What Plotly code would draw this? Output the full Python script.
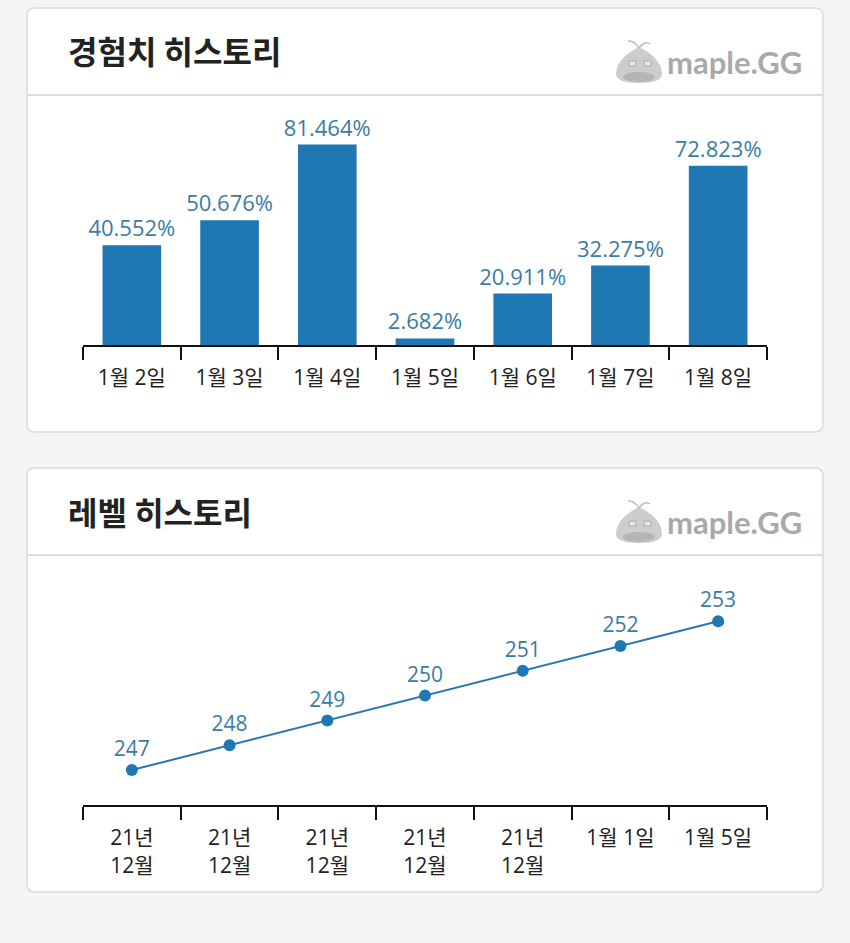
import plotly.graph_objects as go

# ---------------- data ----------------
exp_dates = ["1월 2일", "1월 3일", "1월 4일", "1월 5일", "1월 6일", "1월 7일", "1월 8일"]
exp_values = [40.552, 50.676, 81.464, 2.682, 20.911, 32.275, 72.823]

level_dates = ["21년<br>12월", "21년<br>12월", "21년<br>12월", "21년<br>12월", "21년<br>12월", "1월 1일", "1월 5일"]
level_values = [247, 248, 249, 250, 251, 252, 253]

exp_title = "경험치 히스토리"
level_title = "레벨 히스토리"
logo_text = "maple.GG"

# ---------------- helpers ----------------
W, H = 850, 943
def fx(x):
    return x / W
def fy(y):
    return 1 - y / H

def path_from(cmds):
    out = []
    for c in cmds:
        if isinstance(c, str):
            out.append(c)
        else:
            out.append(f"{fx(c[0]):.5f},{fy(c[1]):.5f}")
    return " ".join(out)

def card_path(x0, y0, x1, y1, r=8):
    return path_from([
        "M", (x0 + r, y0), "L", (x1 - r, y0), "Q", (x1, y0), (x1, y0 + r),
        "L", (x1, y1 - r), "Q", (x1, y1), (x1 - r, y1),
        "L", (x0 + r, y1), "Q", (x0, y1), (x0, y1 - r),
        "L", (x0, y0 + r), "Q", (x0, y0), (x0 + r, y0), "Z"])

BAR_COLOR = "#1f77b4"
LABEL_COLOR = "#3b7ca6"
FONT = "Open Sans, Noto Sans CJK KR"
TITLE_FONT = "Noto Sans CJK KR"
BG = "#f4f5f7"
x_pos = list(range(len(exp_dates)))

fig = go.Figure()

fig.add_trace(go.Bar(
    x=x_pos, y=exp_values, width=0.6,
    marker=dict(color=BAR_COLOR, line=dict(width=0)),
    text=[f"{v:.3f}%" for v in exp_values], textposition="outside",
    constraintext="none",
    textfont=dict(color=LABEL_COLOR, size=22, family=FONT),
    cliponaxis=False, xaxis="x", yaxis="y", hoverinfo="skip",
))

fig.add_trace(go.Scatter(
    x=x_pos, y=level_values, mode="lines+markers+text",
    line=dict(color="#2878b0", width=2),
    marker=dict(color=BAR_COLOR, size=12),
    text=[str(v) for v in level_values], textposition="top center",
    textfont=dict(color=LABEL_COLOR, size=21, family=FONT),
    cliponaxis=False, xaxis="x2", yaxis="y2", hoverinfo="skip",
))

def xaxis_cfg(labels):
    return dict(
        domain=[fx(83), fx(767)], range=[-0.5, len(labels) - 0.5],
        tickmode="array", tickvals=x_pos, ticktext=labels,
        ticks="outside", ticklen=13, tickcolor="rgba(0,0,0,0)", tickwidth=2,
        minor=dict(tickmode="array", tickvals=[i - 0.5 for i in range(len(labels) + 1)],
                   ticks="outside", ticklen=13, tickwidth=2, tickcolor="#111", showgrid=False),
        showline=True, linecolor="#111", linewidth=2,
        showgrid=False, zeroline=False, fixedrange=True,
        tickfont=dict(size=21, color="#222", family=FONT),
    )

shapes = []
for (y0, y1, ydiv) in [(8, 432, 95), (468, 892, 555)]:
    shapes.append(dict(type="path", xref="paper", yref="paper",
                       path=card_path(27, y0, 823, y1, 8),
                       fillcolor="white", line=dict(color="#d9dadc", width=1.5), layer="below"))
    shapes.append(dict(type="line", xref="paper", yref="paper",
                       x0=fx(28), x1=fx(822), y0=fy(ydiv), y1=fy(ydiv),
                       line=dict(color="#dcdcdc", width=2), layer="below"))
    dy = y0 - 8
    # slime logo icon
    shapes.append(dict(type="path", xref="paper", yref="paper",
                       path=path_from(["M", (639, 47 + dy), "Q", (661, 58 + dy), (662, 73 + dy),
                                       "Q", (663, 83 + dy), (639, 83 + dy),
                                       "Q", (615, 83 + dy), (616, 73 + dy),
                                       "Q", (617, 58 + dy), (639, 47 + dy), "Z"]),
                       fillcolor="#cdcdcd", line=dict(width=0), layer="below"))
    shapes.append(dict(type="path", xref="paper", yref="paper",
                       path=path_from(["M", (639, 48 + dy), "Q", (634, 40 + dy), (628, 41 + dy),
                                       "M", (639, 48 + dy), "Q", (645, 40 + dy), (650, 44 + dy)]),
                       line=dict(color="#bdbdbd", width=1.5), layer="below"))
    shapes.append(dict(type="circle", xref="paper", yref="paper",
                       x0=fx(623), x1=fx(655), y0=fy(72 + dy), y1=fy(82 + dy),
                       fillcolor="#b5b5b5", line=dict(width=0), layer="below"))
    for ex in (629, 644):
        shapes.append(dict(type="rect", xref="paper", yref="paper",
                           x0=fx(ex), x1=fx(ex + 7), y0=fy(61 + dy), y1=fy(66 + dy),
                           fillcolor="#e8e8e8", line=dict(color="#a9a9a9", width=1), layer="below"))

annotations = []
for (title, ytitle, ylogo) in [(exp_title, 50, 62), (level_title, 511, 522)]:
    annotations.append(dict(text=f"<b>{title}</b>", xref="paper", yref="paper",
                            x=fx(66), y=fy(ytitle), xanchor="left", yanchor="middle",
                            showarrow=False, font=dict(size=32, color="#222", family=TITLE_FONT)))
    annotations.append(dict(text=f"<b>{logo_text}</b>", xref="paper", yref="paper",
                            x=fx(804), y=fy(ylogo), xanchor="right", yanchor="middle",
                            showarrow=False, font=dict(size=31, color="#a9a9a9", family="Lato")))

fig.update_layout(
    width=W, height=H, margin=dict(l=0, r=0, t=0, b=0, pad=0),
    paper_bgcolor=BG, plot_bgcolor="rgba(0,0,0,0)",
    showlegend=False,
    xaxis=dict(anchor="y", **xaxis_cfg(exp_dates)),
    yaxis=dict(domain=[fy(345), fy(110)], range=[0, 95.5], visible=False, fixedrange=True, anchor="x"),
    xaxis2=dict(anchor="y2", **xaxis_cfg(level_dates)),
    yaxis2=dict(domain=[fy(805), fy(584)], range=[245.59, 254.5], visible=False,
                fixedrange=True, anchor="x2"),
    shapes=shapes, annotations=annotations,
    font=dict(family=FONT),
)

fig.write_html(
    "out.html",
    config={"displayModeBar": False},
    post_script="document.body.style.margin='0';document.body.style.background='" + BG + "';",
)
